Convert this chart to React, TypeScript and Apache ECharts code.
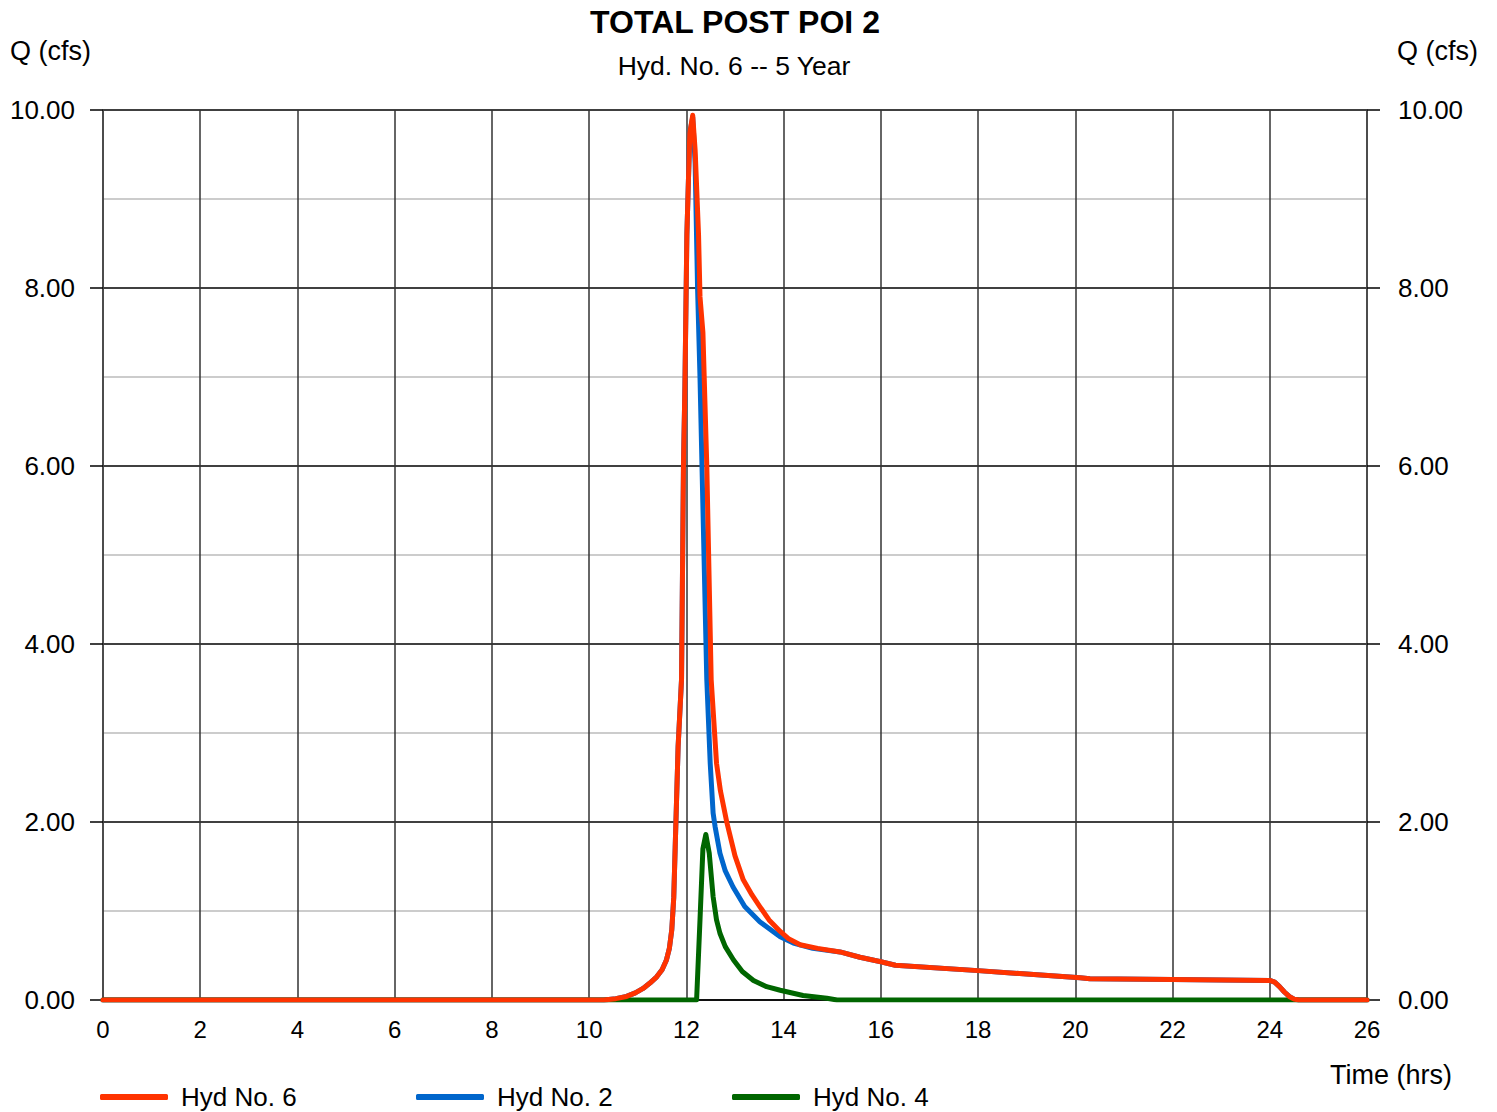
import React, { useEffect, useRef } from "react";
import * as echarts from "echarts";

const chartTitle = "TOTAL POST POI 2";
const chartSubtitle = "Hyd. No. 6 -- 5 Year";
const yAxisName = "Q (cfs)";
const xAxisName = "Time (hrs)";

const seriesNames = ["Hyd No. 6", "Hyd No. 2", "Hyd No. 4"];
const seriesColors = ["#FF3300", "#0066CC", "#006600"];

// Hyd No. 6 (total)
const hyd6Time = [0, 10.3, 10.55, 10.77, 10.95, 11.11, 11.25, 11.39, 11.5, 11.59, 11.65, 11.7, 11.74, 11.77, 11.83, 11.9, 11.94, 11.97, 12.01, 12.07, 12.13, 12.18, 12.25, 12.28, 12.34, 12.38, 12.42, 12.51, 12.62, 12.7, 12.83, 13.0, 13.17, 13.35, 13.51, 13.7, 13.93, 14.1, 14.34, 14.7, 15.16, 15.57, 16.0, 16.3, 18.0, 20.1, 20.3, 22.0, 24.0, 24.1, 24.2, 24.3, 24.4, 24.5, 24.6, 26];
const hyd6Flow = [0, 0, 0.015, 0.04, 0.08, 0.13, 0.19, 0.26, 0.34, 0.45, 0.58, 0.79, 1.15, 1.72, 2.85, 3.6, 6.0, 6.9, 8.6, 9.74, 9.94, 9.55, 8.6, 7.9, 7.5, 6.74, 6.0, 3.6, 2.66, 2.35, 2.0, 1.62, 1.35, 1.18, 1.05, 0.9, 0.77, 0.69, 0.62, 0.58, 0.54, 0.48, 0.43, 0.39, 0.33, 0.25, 0.24, 0.23, 0.22, 0.2, 0.15, 0.09, 0.04, 0.01, 0, 0];

// Hyd No. 2
const hyd2Time = [0, 10.3, 10.55, 10.77, 10.95, 11.11, 11.25, 11.39, 11.5, 11.59, 11.65, 11.7, 11.74, 11.77, 11.83, 11.9, 11.94, 11.97, 12.01, 12.07, 12.13, 12.18, 12.23, 12.28, 12.35, 12.42, 12.49, 12.55, 12.59, 12.69, 12.8, 12.96, 13.2, 13.51, 13.93, 14.2, 14.6, 15.16, 15.57, 16.0, 16.3, 18.0, 20.1, 20.3, 22.0, 24.0, 24.1, 24.2, 24.3, 24.4, 24.5, 24.6, 26];
const hyd2Flow = [0, 0, 0.015, 0.04, 0.08, 0.13, 0.19, 0.26, 0.34, 0.45, 0.58, 0.79, 1.15, 1.72, 2.85, 3.6, 6.0, 6.9, 8.6, 9.74, 9.92, 9.4, 8.0, 7.0, 5.3, 3.6, 2.66, 2.1, 1.95, 1.65, 1.45, 1.27, 1.05, 0.88, 0.71, 0.64, 0.58, 0.54, 0.48, 0.43, 0.39, 0.33, 0.25, 0.24, 0.23, 0.22, 0.2, 0.15, 0.09, 0.04, 0.01, 0, 0];

// Hyd No. 4
const hyd4Time = [0, 12.21, 12.28, 12.34, 12.4, 12.47, 12.55, 12.62, 12.69, 12.8, 12.97, 13.15, 13.38, 13.65, 13.93, 14.4, 14.89, 15.1, 26];
const hyd4Flow = [0, 0, 0.9, 1.7, 1.86, 1.65, 1.16, 0.9, 0.75, 0.6, 0.45, 0.32, 0.22, 0.15, 0.11, 0.05, 0.02, 0, 0];

const xMin = 0, xMax = 26, xStep = 2;
const yMin = 0, yMax = 10, yStep = 2;

const FONT = "Liberation Sans, Arial, sans-serif";

function pairs(t: number[], v: number[]) {
  return t.map((x, i) => [x, v[i]]);
}

export default function App() {
  const ref = useRef<HTMLDivElement>(null);
  useEffect(() => {
    if (!ref.current) return;
    const chart = echarts.init(ref.current, undefined, { renderer: "svg" });
    const lineSeries = (name: string, color: string, data: number[][], z: number) => ({
      name,
      type: "line",
      data,
      showSymbol: false,
      symbol: "none",
      z,
      lineStyle: { color, width: 5, cap: "round", join: "round" },
      itemStyle: { color },
    });
    const legendBase = {
      top: 1084,
      padding: 0,
      itemWidth: 68,
      itemHeight: 6,
      icon: "roundRect",
      textStyle: { fontFamily: FONT, fontSize: 26, color: "#000", padding: [0, 0, 0, 8] },
    };
    chart.setOption({
      animation: false,
      backgroundColor: "#fff",
      textStyle: { fontFamily: FONT },
      grid: { left: 103, right: 130, top: 110, bottom: 112, containLabel: false },
      legend: [
        { ...legendBase, left: 100, data: [seriesNames[0]] },
        { ...legendBase, left: 416, data: [seriesNames[1]] },
        { ...legendBase, left: 732, data: [seriesNames[2]] },
      ],
      xAxis: {
        type: "value",
        min: xMin,
        max: xMax,
        interval: xStep,
        axisLine: { show: true, onZero: false, lineStyle: { color: "#000", width: 1.5 } },
        axisTick: { show: false },
        axisLabel: { color: "#000", fontSize: 24, fontFamily: FONT, margin: 17 },
        splitLine: { show: true, lineStyle: { color: "#333", width: 1.5 } },
      },
      yAxis: [
        {
          type: "value",
          position: "left",
          min: yMin,
          max: yMax,
          interval: yStep,
          axisLine: { show: true, lineStyle: { color: "#444", width: 1.5 } },
          axisTick: { show: true, length: 13, lineStyle: { color: "#000", width: 1.5 } },
          axisLabel: { color: "#000", fontSize: 26, fontFamily: FONT, margin: 28, formatter: (v: number) => v.toFixed(2) },
          splitLine: { show: true, lineStyle: { color: "#000", width: 1.5 } },
          minorTick: { show: false, splitNumber: 2 },
          minorSplitLine: { show: true, lineStyle: { color: "#cccccc", width: 2 } },
        },
        {
          type: "value",
          position: "right",
          min: yMin,
          max: yMax,
          interval: yStep,
          axisLine: { show: true, lineStyle: { color: "#444", width: 1.5 } },
          axisTick: { show: true, length: 13, lineStyle: { color: "#000", width: 1.5 } },
          axisLabel: { color: "#000", fontSize: 26, fontFamily: FONT, margin: 31, formatter: (v: number) => v.toFixed(2) },
          splitLine: { show: false },
        },
      ],
      graphic: [
        { type: "text", x: 735, y: 22, style: { text: chartTitle, font: `bold 32px ${FONT}`, fill: "#000", align: "center", verticalAlign: "middle" } },
        { type: "text", x: 734, y: 66, style: { text: chartSubtitle, font: `26.5px ${FONT}`, fill: "#000", align: "center", verticalAlign: "middle" } },
        { type: "text", x: 10, y: 51, style: { text: yAxisName, font: `27px ${FONT}`, fill: "#000", align: "left", verticalAlign: "middle" } },
        { type: "text", x: 1397, y: 51, style: { text: yAxisName, font: `27px ${FONT}`, fill: "#000", align: "left", verticalAlign: "middle" } },
        { type: "text", x: 1391, y: 1075, style: { text: xAxisName, font: `27px ${FONT}`, fill: "#000", align: "center", verticalAlign: "middle" } },
      ],
      series: [
        lineSeries(seriesNames[0], seriesColors[0], pairs(hyd6Time, hyd6Flow), 5),
        lineSeries(seriesNames[1], seriesColors[1], pairs(hyd2Time, hyd2Flow), 3),
        lineSeries(seriesNames[2], seriesColors[2], pairs(hyd4Time, hyd4Flow), 4),
      ],
    });
    return () => chart.dispose();
  }, []);
  return <div ref={ref} style={{ position: "fixed", left: 0, top: 0, width: 1497, height: 1112 }} />;
}
